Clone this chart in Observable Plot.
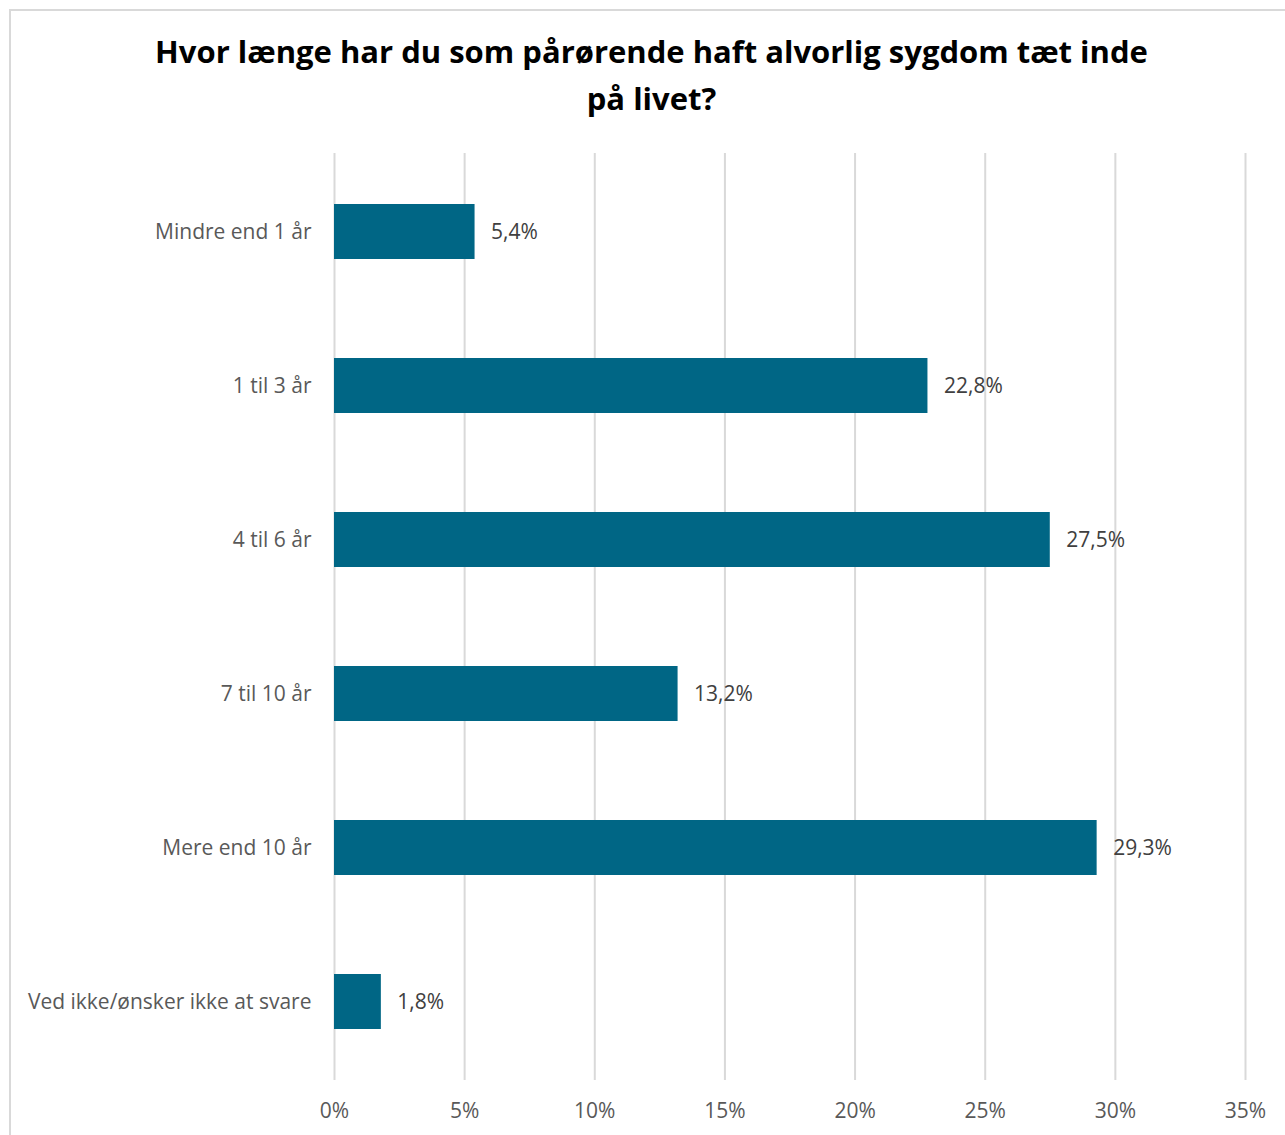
<!DOCTYPE html>
<html>
<head>
<meta charset="utf-8">
<script src="https://cdn.jsdelivr.net/npm/d3@7"></script>
<script src="https://cdn.jsdelivr.net/npm/@observablehq/plot@0.6"></script>
<style>
  html, body { margin: 0; padding: 0; background: #fff; }
  #wrap { position: relative; width: 1285px; height: 1135px; overflow: hidden; font-family: "Open Sans", sans-serif; }
  #frame { position: absolute; left: 9px; top: 9px; width: 1400px; height: 1300px; border: 2px solid #d9d9d9; box-sizing: border-box; }
  #title { position: absolute; left: 0; top: 28px; width: 1303px; text-align: center; font-weight: bold; font-size: 31px; line-height: 47px; color: #000; }
  #chart { position: absolute; left: 0; top: 0; }
</style>
</head>
<body>
<div id="wrap">
  <div id="frame"></div>
  <div id="chart"></div>
  <div id="title">Hvor længe har du som pårørende haft alvorlig sygdom tæt inde<br>på livet?</div>
</div>
<script>
const categories = ["Mindre end 1 år", "1 til 3 år", "4 til 6 år", "7 til 10 år", "Mere end 10 år", "Ved ikke/ønsker ikke at svare"];
const values = [5.4, 22.8, 27.5, 13.2, 29.3, 1.8];
const ticks = [0, 5, 10, 15, 20, 25, 30, 35];

const data = categories.map((c, i) => ({category: c, value: values[i]}));
const fmt = v => v.toFixed(1).replace(".", ",") + "%";

const chart = Plot.plot({
  width: 1285,
  height: 1135,
  marginLeft: 334,
  marginRight: 40,
  marginTop: 153,
  marginBottom: 55,
  style: { fontFamily: "Open Sans, sans-serif", fontSize: "21px", background: "transparent" },
  x: { domain: [0, 35], ticks: ticks, label: null },
  y: { domain: categories, paddingInner: 0.644, paddingOuter: 0.322, label: null },
  marks: [
    Plot.ruleX(ticks, { stroke: "#d9d9d9", strokeWidth: 2 }),
    Plot.barX(data, { y: "category", x: "value", fill: "#006685" }),
    Plot.text(data, { y: "category", x: "value", text: d => fmt(d.value), textAnchor: "start", dx: 16, dy: 0, fill: "#404040", fontSize: 21 }),
    Plot.axisX({ ticks: ticks, tickSize: 0, tickPadding: 23, tickFormat: d => d + "%", fill: "#595959", fontSize: 21, label: null }),
    Plot.axisY({ tickSize: 0, tickPadding: 23, fill: "#595959", fontSize: 21, label: null })
  ]
});
document.getElementById("chart").appendChild(chart);
</script>
</body>
</html>
